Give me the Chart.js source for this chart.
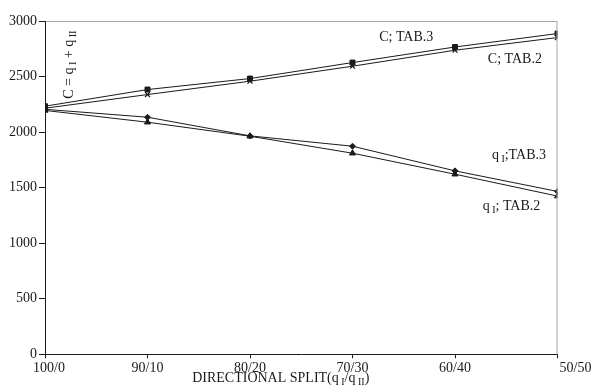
<!DOCTYPE html>
<html>
<head>
<meta charset="utf-8">
<script src="https://cdn.jsdelivr.net/npm/chart.js@4"></script>
<style>
  html, body { margin: 0; padding: 0; background: #fff; }
  #wrap { width: 593px; height: 392px; }
</style>
</head>
<body>
<div id="wrap"><canvas id="splitChart" width="593" height="392"></canvas></div>
<script>
const splits = ['100/0', '90/10', '80/20', '70/30', '60/40', '50/50']
const cTab3 = [2233, 2383, 2482, 2626, 2766, 2887]
const cTab2 = [2215, 2338, 2458, 2593, 2737, 2851]
const qTab3 = [2205, 2134, 1966, 1873, 1651, 1466]
const qTab2 = [2195, 2089, 1963, 1810, 1621, 1424]
const yTicks = [0, 500, 1000, 1500, 2000, 2500, 3000]

const FONT = '"Liberation Serif", "Times New Roman", serif'
const INK = '#1a1a1a'

const toPoints = arr => arr.map((v, i) => ({ x: i, y: v }))

const series = (label, arr, style, radius) => ({
  label,
  data: toPoints(arr),
  borderColor: INK,
  backgroundColor: INK,
  borderWidth: 1,
  pointStyle: style,
  pointRadius: radius,
  pointBorderWidth: style === 'crossRot' ? 1.2 : 1,
  tension: 0,
  fill: false
})

// text with subscript pieces: [[text, isSub], ...]
const drawRich = (ctx, parts, x, y, size, align) => {
  const subFont = `${Math.round(size * 0.7)}px ${FONT}`
  let total = 0
  parts.forEach(([t, sub]) => {
    ctx.font = sub ? subFont : `${size}px ${FONT}`
    total += ctx.measureText(t).width
  })
  let cx = align === 'center' ? x - total / 2 : x
  ctx.textAlign = 'left'
  ctx.textBaseline = 'alphabetic'
  parts.forEach(([t, sub]) => {
    ctx.font = sub ? subFont : `${size}px ${FONT}`
    ctx.fillText(t, cx, sub ? y + 3 : y)
    cx += ctx.measureText(t).width
  })
}

// the first and last split labels sit a little right of their ticks
const labelShift = [4, 0, 0, 0, 0, 18]

const notes = {
  id: 'notes',
  afterDraw(chart) {
    const { ctx, chartArea: a, scales: { x, y } } = chart
    ctx.save()
    // light frame on top and right
    ctx.strokeStyle = '#a8a8a8'
    ctx.lineWidth = 1
    ctx.beginPath()
    ctx.moveTo(a.left + 1, a.top + 0.5)
    ctx.lineTo(a.right - 0.5, a.top + 0.5)
    ctx.lineTo(a.right - 0.5, a.bottom)
    ctx.stroke()

    ctx.fillStyle = INK
    // split labels under the x axis
    ctx.font = `14px ${FONT}`
    ctx.textAlign = 'center'
    ctx.textBaseline = 'alphabetic'
    splits.forEach((s, i) => {
      ctx.fillText(s, x.getPixelForValue(i) + labelShift[i], a.bottom + 18)
    })

    // series labels, anchored in data space
    drawRich(ctx, [['C; TAB.3', false]], x.getPixelForValue(3.26), y.getPixelForValue(2823), 14, 'left')
    drawRich(ctx, [['C; TAB.2', false]], x.getPixelForValue(4.32), y.getPixelForValue(2620), 14, 'left')
    drawRich(ctx, [['q', false], [' I', true], [';TAB.3', false]], x.getPixelForValue(4.36), y.getPixelForValue(1756), 14, 'left')
    drawRich(ctx, [['q', false], [' I', true], ['; TAB.2', false]], x.getPixelForValue(4.27), y.getPixelForValue(1298), 14, 'left')

    // x axis title
    drawRich(ctx, [['DIRECTIONAL SPLIT(q', false], [' I', true], ['/q', false], [' II', true], [')', false]],
      x.getPixelForValue(2.3), 382, 14, 'center')

    // vertical y label inside the plot
    ctx.translate(a.left + 28, y.getPixelForValue(2300))
    ctx.rotate(-Math.PI / 2)
    drawRich(ctx, [['C = q', false], [' I', true], [' + q', false], [' II', true]], 0, 0, 14, 'left')
    ctx.restore()
  }
}

const ctx = document.getElementById('splitChart').getContext('2d')
const chart = new Chart(ctx, {
  type: 'line',
  data: {
    datasets: [
      series('C; TAB.3', cTab3, 'rect', 3.5),
      series('C; TAB.2', cTab2, 'crossRot', 3.5),
      series('q I;TAB.3', qTab3, 'rectRot', 3),
      series('q I; TAB.2', qTab2, 'triangle', 3.5)
    ]
  },
  options: {
    responsive: false,
    animation: false,
    layout: { padding: { top: 21, right: 35.5, left: 0, bottom: 0 } },
    plugins: { legend: { display: false }, tooltip: { enabled: false } },
    scales: {
      x: {
        type: 'linear',
        min: 0,
        max: splits.length - 1,
        afterBuildTicks: axis => { axis.ticks = splits.map((s, i) => ({ value: i })) },
        afterFit: axis => { axis.height = 37.7 },
        border: { color: INK, width: 1 },
        grid: { drawOnChartArea: false, color: INK, tickLength: 4 },
        ticks: { display: false }
      },
      y: {
        min: 0,
        max: 3000,
        afterBuildTicks: axis => { axis.ticks = yTicks.map(v => ({ value: v })) },
        afterFit: axis => { axis.width = 45 },
        border: { color: INK, width: 1 },
        grid: { drawOnChartArea: false, color: INK, tickLength: 6 },
        ticks: {
          color: INK,
          font: { family: FONT, size: 14 },
          padding: 2,
          callback: v => String(v)
        }
      }
    }
  },
  plugins: [notes]
})
</script>
</body>
</html>
